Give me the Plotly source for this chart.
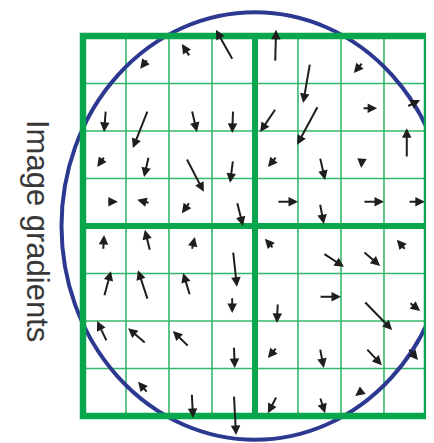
import plotly.graph_objects as go

# Gradient vectors in grid units (one cell = 1, origin at bottom-left of the 8x8 grid)
start_x = [1.51, 2.49, 3.49, 4.47, 5.28, 6.51,
           0.53, 1.51, 2.53, 3.49, 4.49, 5.47, 6.49, 7.53,
           0.51, 1.53, 2.40, 3.49, 4.51, 5.51, 6.49, 7.53,
           0.56, 1.56, 2.49, 3.58, 4.51, 5.51, 6.51, 7.56,
           0.47, 1.56, 2.53, 3.49, 4.44, 5.58, 6.51, 7.51,
           0.49, 1.51, 2.49, 3.47, 4.53, 5.49, 6.53, 7.58,
           0.56, 1.47, 2.47, 3.51, 4.51, 5.51, 6.58, 7.56,
           1.51, 2.53, 3.51, 4.51, 5.51, 6.49]
start_y = [7.52, 7.56, 7.49, 7.45, 7.43, 7.45,
           6.44, 6.44, 6.44, 6.44, 6.48, 6.53, 6.48, 6.51,
           5.47, 5.47, 5.43, 5.39, 5.47, 5.45, 5.43, 5.43,
           4.51, 4.48, 4.51, 4.51, 4.51, 4.48, 4.51, 4.51,
           3.49, 3.47, 3.49, 3.47, 3.52, 3.43, 3.47, 3.49,
           2.51, 2.44, 2.53, 2.51, 2.38, 2.51, 2.42, 2.40,
           1.56, 1.52, 1.45, 1.47, 1.45, 1.43, 1.43, 1.43,
           0.48, 0.48, 0.44, 0.42, 0.40, 0.53]
end_x = [1.33, 2.30, 3.09, 4.49, 5.12, 6.30,
         0.49, 1.16, 2.65, 3.47, 4.12, 4.98, 6.84, 7.84,
         0.33, 1.42, 2.81, 3.42, 4.30, 5.63, 6.47, 7.53,
         0.81, 1.26, 2.30, 3.72, 5.00, 5.60, 7.00, 7.95,
         0.49, 1.44, 2.60, 3.58, 4.23, 6.07, 6.91, 7.30,
         0.65, 1.28, 2.33, 3.47, 4.51, 6.00, 7.19, 7.84,
         0.33, 1.05, 2.09, 3.53, 4.30, 5.60, 6.95, 7.79,
         1.28, 2.56, 3.56, 4.30, 5.63, 6.33]
end_y = [7.31, 7.83, 8.13, 8.13, 6.59, 7.22,
         5.98, 5.64, 5.98, 5.96, 5.98, 5.71, 6.48, 6.65,
         5.24, 5.03, 4.72, 4.91, 5.24, 4.97, 5.22, 6.06,
         4.51, 4.55, 4.27, 4.00, 4.51, 4.04, 4.51, 4.51,
         3.81, 3.92, 3.77, 2.72, 3.73, 3.14, 3.16, 3.71,
         3.05, 3.07, 3.01, 2.17, 1.96, 2.51, 1.81, 2.21,
         2.00, 1.85, 1.79, 1.01, 1.22, 1.01, 1.07, 1.18,
         0.72, -0.04, -0.40, 0.06, 0.06, 0.42]

grid_n = 8
label = "Image gradients"

thick_green = "#0aa64e"
thin_green = "#33b86a"
circle_blue = "#2d3991"
arrow_color = "#1e1e1e"

# page body has an 8px margin, so the figure covers the window from (8, 8)
W, H = 426, 435

fig = go.Figure()
fig.add_trace(go.Scatter(x=[0, grid_n], y=[0, grid_n], mode="markers",
                         marker=dict(opacity=0), hoverinfo="skip", showlegend=False))

shapes = []
for k in range(grid_n + 1):
    if k % 4 != 0:
        shapes.append(dict(type="line", x0=k, x1=k, y0=0, y1=grid_n,
                           line=dict(color=thin_green, width=1.6)))
        shapes.append(dict(type="line", x0=0, x1=grid_n, y0=k, y1=k,
                           line=dict(color=thin_green, width=1.6)))
shapes.append(dict(type="circle", x0=-0.5, x1=grid_n + 0.5, y0=-0.5, y1=grid_n + 0.5,
                   line=dict(color=circle_blue, width=4)))
shapes.append(dict(type="line", x0=grid_n / 2, x1=grid_n / 2, y0=0, y1=grid_n,
                   line=dict(color=thick_green, width=6)))
shapes.append(dict(type="line", x0=0, x1=grid_n, y0=grid_n / 2, y1=grid_n / 2,
                   line=dict(color=thick_green, width=6)))
shapes.append(dict(type="rect", x0=0, x1=grid_n, y0=0, y1=grid_n,
                   line=dict(color=thick_green, width=6.5)))

annotations = []
for sx, sy, ex, ey in zip(start_x, start_y, end_x, end_y):
    annotations.append(dict(x=ex, y=ey, ax=sx, ay=sy, xref="x", yref="y",
                            axref="x", ayref="y", text="", showarrow=True,
                            arrowhead=2, arrowsize=0.95, arrowwidth=2.0,
                            arrowcolor=arrow_color, standoff=0, startstandoff=0))
annotations.append(dict(text=label, xref="paper", yref="paper",
                        x=(37 - 8) / W, y=1 - (231 - 8) / H, xanchor="center", yanchor="middle",
                        showarrow=False, textangle=90,
                        font=dict(family="Liberation Sans, Arial, sans-serif", size=31,
                                  color="#383838")))

fig.update_layout(
    width=W, height=H,
    margin=dict(l=0, r=0, t=0, b=0),
    paper_bgcolor="white", plot_bgcolor="white",
    shapes=shapes, annotations=annotations,
    xaxis=dict(range=[-1.744, 8.163], visible=False, fixedrange=True),
    yaxis=dict(range=[-0.568, 8.589], visible=False, fixedrange=True),
    showlegend=False,
)

fig.write_html("out.html")
